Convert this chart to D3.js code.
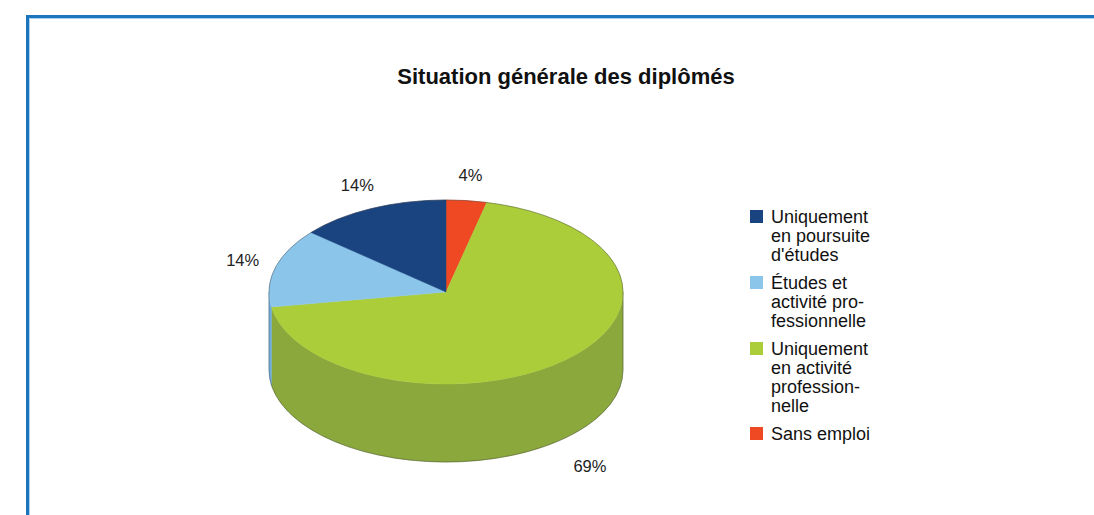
<!DOCTYPE html>
<html>
<head>
<meta charset="utf-8">
<script src="https://cdn.jsdelivr.net/npm/d3@7"></script>
<style>
  body { margin: 0; background: #fff; }
  svg { display: block; font-family: "Liberation Sans", Arial, sans-serif; }
</style>
</head>
<body>
<div id="chart-container"></div>
<script>
// data, in legend order
const categories = ["Uniquement en poursuite d'études", "Études et activité professionnelle", "Uniquement en activité professionnelle", "Sans emploi"]
const legendLines = [
    ["Uniquement", "en poursuite", "d'études"],
    ["Études et", "activité pro-", "fessionnelle"],
    ["Uniquement", "en activité", "profession-", "nelle"],
    ["Sans emploi"]
]
const shares = [13.8, 13.8, 68.7, 3.7]
const topColors = ["#1a4480", "#8bc6ea", "#abcd3a", "#ee4923"]
const sideColors = ["#143667", "#6fade0", "#8ba83d", "#c33a1b"]

document.addEventListener('DOMContentLoaded', function(){

    const width = 1094, height = 515
    const cx = 446, cy = 292, rx = 177, ry = 92, depth = 78

    const svg = d3.select('#chart-container')
        .append('svg')
        .attr('width', width)
        .attr('height', height)

    // frame
    svg.append('path')
        .attr('d', `M27.5,${height} L27.5,16.5 L${width},16.5`)
        .attr('fill', 'none')
        .attr('stroke', '#1b75bc')
        .attr('stroke-width', 3)
    svg.append('path')
        .attr('d', `M29.5,${height} L29.5,18.5 L${width},18.5`)
        .attr('fill', 'none')
        .attr('stroke', '#a9d0ef')
        .attr('stroke-width', 1)

    svg.append('text')
        .attr('x', 566).attr('y', 84)
        .attr('text-anchor', 'middle')
        .attr('font-size', 22).attr('font-weight', 'bold')
        .attr('fill', '#111')
        .text('Situation générale des diplômés')

    // pie goes clockwise from 12 o'clock starting with the last category
    const items = categories.map((c, i) => ({i, name: c, value: shares[i]})).reverse()
    const total = d3.sum(shares)
    const arcs = d3.pie().sort(null).value(d => d.value)(items)

    const px = a => cx + rx * Math.sin(a)
    const py = a => cy - ry * Math.cos(a)

    const g = svg.append('g')

    // front walls
    arcs.forEach(d => {
        const s0 = Math.max(d.startAngle, Math.PI / 2)
        const s1 = Math.min(d.endAngle, Math.PI * 1.5)
        if (s1 <= s0) return
        const path = `M${px(s0)},${py(s0)} A${rx},${ry} 0 0 1 ${px(s1)},${py(s1)}` +
            ` L${px(s1)},${py(s1) + depth} A${rx},${ry} 0 0 0 ${px(s0)},${py(s0) + depth} Z`
        g.append('path')
            .attr('d', path)
            .attr('fill', sideColors[d.data.i])
            .attr('stroke', sideColors[d.data.i])
            .attr('stroke-width', 0.5)
    })

    // top faces
    arcs.forEach(d => {
        const a0 = d.startAngle, a1 = d.endAngle
        const large = (a1 - a0) > Math.PI ? 1 : 0
        const path = `M${cx},${cy} L${px(a0)},${py(a0)} A${rx},${ry} 0 ${large} 1 ${px(a1)},${py(a1)} Z`
        g.append('path')
            .attr('d', path)
            .attr('fill', topColors[d.data.i])
            .attr('stroke', topColors[d.data.i])
            .attr('stroke-width', 0.5)
    })

    // outline of silhouette
    g.append('path')
        .attr('d', `M${cx - rx},${cy} A${rx},${ry} 0 0 1 ${cx + rx},${cy} L${cx + rx},${cy + depth}` +
            ` A${rx},${ry} 0 0 1 ${cx - rx},${cy + depth} Z`)
        .attr('fill', 'none')
        .attr('stroke', '#333')
        .attr('stroke-opacity', 0.5)
        .attr('stroke-width', 0.8)

    // percentage labels
    const fmt = d3.format('.0f')
    arcs.forEach(d => {
        const m = (d.startAngle + d.endAngle) / 2
        const x = cx + (rx + 34) * Math.sin(m)
        let y = cy - (ry + 26) * Math.cos(m)
        if (Math.cos(m) < 0) y += depth + 10
        svg.append('text')
            .attr('x', x).attr('y', y)
            .attr('dy', '0.35em')
            .attr('text-anchor', 'middle')
            .attr('font-size', 16.5)
            .attr('fill', '#222')
            .text(fmt(d.data.value / total * 100) + '%')
    })

    // legend
    const legend = svg.append('g').attr('transform', 'translate(750,210)')
    let yy = 0
    legendLines.forEach((lines, i) => {
        legend.append('rect')
            .attr('x', 0).attr('y', yy)
            .attr('width', 13).attr('height', 13)
            .attr('fill', topColors[i])
        lines.forEach((t, k) => {
            legend.append('text')
                .attr('x', 21).attr('y', yy + 13 + k * 19)
                .attr('font-size', 18)
                .attr('fill', '#111')
                .text(t)
        })
        yy += lines.length * 19 + 9
    })
})
</script>
</body>
</html>
